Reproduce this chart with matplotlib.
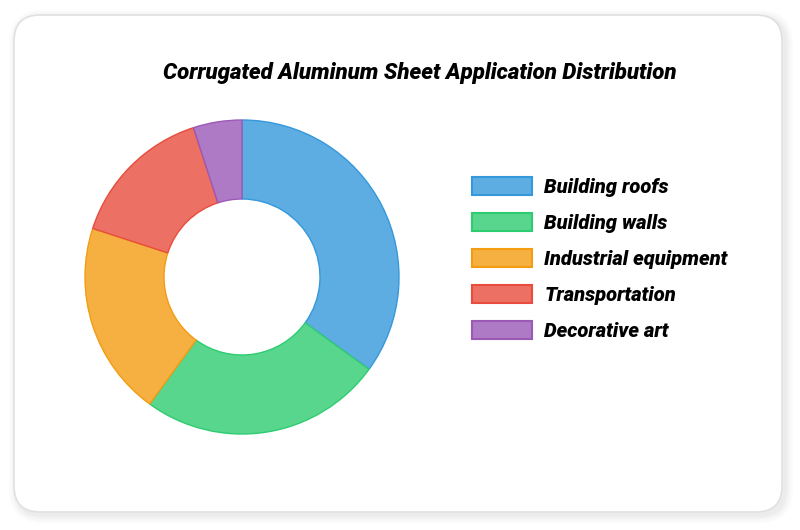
import matplotlib
matplotlib.use("Agg")
import matplotlib.pyplot as plt
from matplotlib.patches import FancyBboxPatch, Patch

# data
categories = ["Building roofs", "Building walls", "Industrial equipment",
              "Transportation", "Decorative art"]
shares = [35, 25, 20, 15, 5]
fill_colors = ["#5DADE2", "#58D68D", "#F5B041", "#EC7063", "#AF7AC5"]
edge_colors = ["#3498DB", "#2ECC71", "#F39C12", "#E74C3C", "#9B59B6"]
title = "Corrugated Aluminum Sheet Application Distribution"

W, H = 800, 530
fig = plt.figure(figsize=(W / 100, H / 100), dpi=100)
fig.patch.set_facecolor("white")

# card with soft shadow
bg = fig.add_axes([0, 0, 1, 1])
bg.set_xlim(0, W)
bg.set_ylim(0, H)
bg.axis("off")
for i, a in enumerate([0.015, 0.015, 0.02, 0.025]):
    grow = 8 - i * 2
    bg.add_patch(FancyBboxPatch((14 - grow + 3, 18 - grow - 3), 768 + 2 * grow, 497 + 2 * grow,
                                boxstyle="round,pad=0,rounding_size=%d" % (26 + grow),
                                facecolor="black", edgecolor="none", alpha=a))
bg.add_patch(FancyBboxPatch((14, 18), 768, 497, boxstyle="round,pad=0,rounding_size=26",
                            facecolor="white", edgecolor="#e0e0e0", linewidth=1.2))

font = ["Roboto", "DejaVu Sans"]

fig.text(420 / W, 1 - 73 / H, title, ha="center", va="center", fontsize=16,
         fontweight="black", fontstyle="italic", family=font)

# donut
cx, cy, r = 242, H - 277, 157
ax = fig.add_axes([(cx - 170) / W, (cy - 170) / H, 340 / W, 340 / H])
wedges, _ = ax.pie(shares, colors=fill_colors, startangle=90, counterclock=False,
                   radius=r, wedgeprops=dict(width=79, linewidth=1.0))
for w, ec in zip(wedges, edge_colors):
    w.set_edgecolor(ec)
ax.set_xlim(-170, 170)
ax.set_ylim(-170, 170)
ax.set_aspect("equal")
ax.axis("off")

handles = [Patch(facecolor=fc, edgecolor=ec, linewidth=1.5)
           for fc, ec in zip(fill_colors, edge_colors)]
fs = 14.5
leg = fig.legend(handles, categories, loc="upper left",
                 bbox_to_anchor=(472 / W, 1 - 177 / H), frameon=False,
                 prop=dict(family=font, size=fs, weight="black", style="italic"),
                 handlelength=3.0, handleheight=1.0, labelspacing=0.8,
                 handletextpad=0.6, borderpad=0, borderaxespad=0)

fig.savefig("out.png", dpi=100, facecolor="white")
